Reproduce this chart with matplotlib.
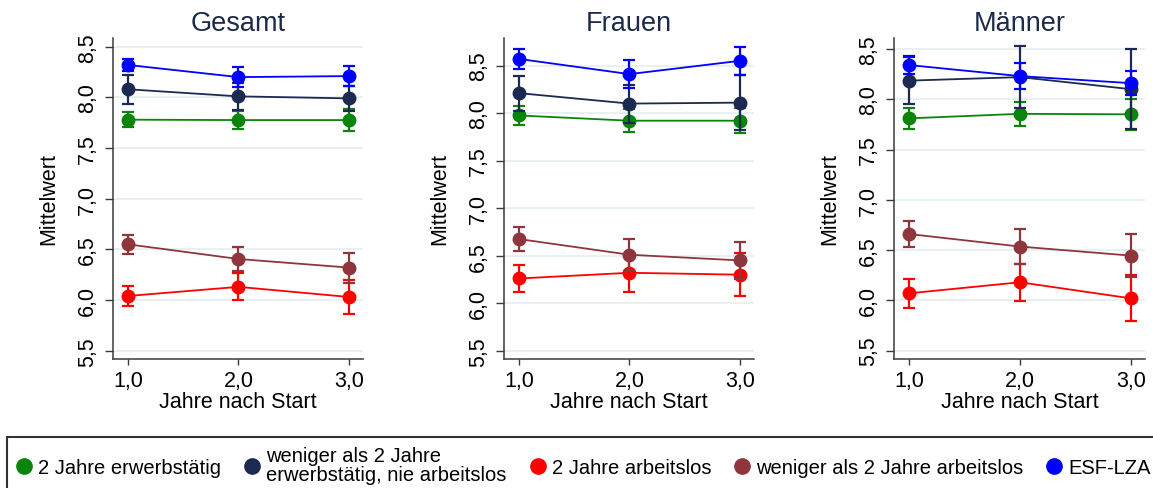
import matplotlib
matplotlib.use("Agg")
import matplotlib.pyplot as plt
from matplotlib.lines import Line2D
from matplotlib.ticker import FuncFormatter

plt.rcParams['font.family'] = ['Liberation Sans', 'DejaVu Sans']

years = [1, 2, 3]
panel_titles = ["Gesamt", "Frauen", "Männer"]
groups = ["2 Jahre erwerbstätig",
          "weniger als 2 Jahre\nerwerbstätig, nie arbeitslos",
          "2 Jahre arbeitslos",
          "weniger als 2 Jahre arbeitslos",
          "ESF-LZA"]
colors = ["#0a840a", "#1c2a52", "#ff0000", "#8e363c", "#0000ff"]

# means per panel, order of groups
gesamt_mean = [[7.78, 7.776, 7.776], [8.08, 8.01, 7.99], [6.04, 6.13, 6.03],
               [6.55, 6.405, 6.32], [8.32, 8.20, 8.21]]
gesamt_ci = [[0.071, 0.087, 0.105], [0.145, 0.13, 0.12], [0.102, 0.132, 0.163],
             [0.095, 0.12, 0.148], [0.056, 0.095, 0.097]]
frauen_mean = [[7.975, 7.92, 7.92], [8.21, 8.10, 8.11], [6.26, 6.32, 6.30],
               [6.675, 6.51, 6.45], [8.57, 8.41, 8.55]]
frauen_ci = [[0.098, 0.123, 0.133], [0.184, 0.2, 0.29], [0.146, 0.2, 0.228],
             [0.13, 0.167, 0.196], [0.105, 0.146, 0.149]]
maenner_mean = [[7.81, 7.855, 7.85], [8.185, 8.22, 8.10], [6.07, 6.18, 6.02],
                [6.66, 6.535, 6.445], [8.34, 8.23, 8.16]]
maenner_ci = [[0.103, 0.121, 0.156], [0.235, 0.305, 0.398], [0.141, 0.186, 0.229],
              [0.133, 0.171, 0.212], [0.088, 0.128, 0.116]]

yticks = [5.5, 6.0, 6.5, 7.0, 7.5, 8.0, 8.5]
xticks = [1, 2, 3]
ylims = [(5.418, 8.586), (5.413, 8.79), (5.417, 8.609)]

means = [gesamt_mean, frauen_mean, maenner_mean]
cis = [gesamt_ci, frauen_ci, maenner_ci]

W, H = 1153, 489
fig = plt.figure(figsize=(W / 100, H / 100), dpi=100)

lefts = [113, 504, 894]
widths = [250, 250, 251]
top_px, bot_px = 39, 360

comma = FuncFormatter(lambda v, p: f"{v:.1f}".replace(".", ","))

for i in range(3):
    ax = fig.add_axes([lefts[i] / W, (H - bot_px) / H, widths[i] / W, (bot_px - top_px) / H])
    for g in range(5):
        ax.errorbar(years, means[i][g], yerr=cis[i][g], color=colors[g], marker='o',
                    ms=9, lw=1.3, elinewidth=1.6, capsize=4.3, capthick=1.6, zorder=3 + g)
    ax.set_xlim(0.865, 3.127)
    ax.set_ylim(*ylims[i])
    ax.set_yticks(yticks)
    ax.set_xticks(xticks)
    ax.yaxis.set_major_formatter(comma)
    ax.xaxis.set_major_formatter(comma)
    ax.grid(axis='y', color='#e6eff1', lw=1.3, zorder=0)
    ax.set_axisbelow(True)
    for s in ['top', 'right']:
        ax.spines[s].set_visible(False)
    for s in ['left', 'bottom']:
        ax.spines[s].set_color('#3a3a3a')
        ax.spines[s].set_linewidth(1.1)
    ax.tick_params(axis='y', labelrotation=90, length=6, width=1.0, color='#3a3a3a',
                   labelsize=15.5, pad=5)
    for lab in ax.get_yticklabels():
        lab.set_va('center')
    ax.tick_params(axis='x', length=4, width=1.0, color='#3a3a3a', labelsize=15.5, pad=4)
    ax.set_title(panel_titles[i], fontsize=19.5, color='#1c2a4a', pad=6)
    ax.set_ylabel("Mittelwert", fontsize=15.5)
    ax.yaxis.set_label_coords(-0.215, 0.5)
    ax.set_xlabel("Jahre nach Start", fontsize=15.5)
    ax.xaxis.set_label_coords(0.5, -0.1)

handles = [Line2D([], [], linestyle='none', marker='o', color=c, ms=11) for c in colors]
x0 = 7 / W
x1 = 1160 / W
ytop = (H - 438) / H
leg = fig.legend(handles, groups, loc='upper left',
                 bbox_to_anchor=(x0, ytop - 0.3, x1 - x0, 0.3),
                 mode='expand', ncol=5, fontsize=14.5, frameon=True, fancybox=False,
                 edgecolor='black', borderaxespad=0, borderpad=0.45,
                 handlelength=0.8, handletextpad=0.3, labelspacing=0.2)
leg.get_frame().set_linewidth(1.5)
for t in leg.get_texts():
    t.set_linespacing(1.0)

fig.savefig("out.png", dpi=100, facecolor='white')
